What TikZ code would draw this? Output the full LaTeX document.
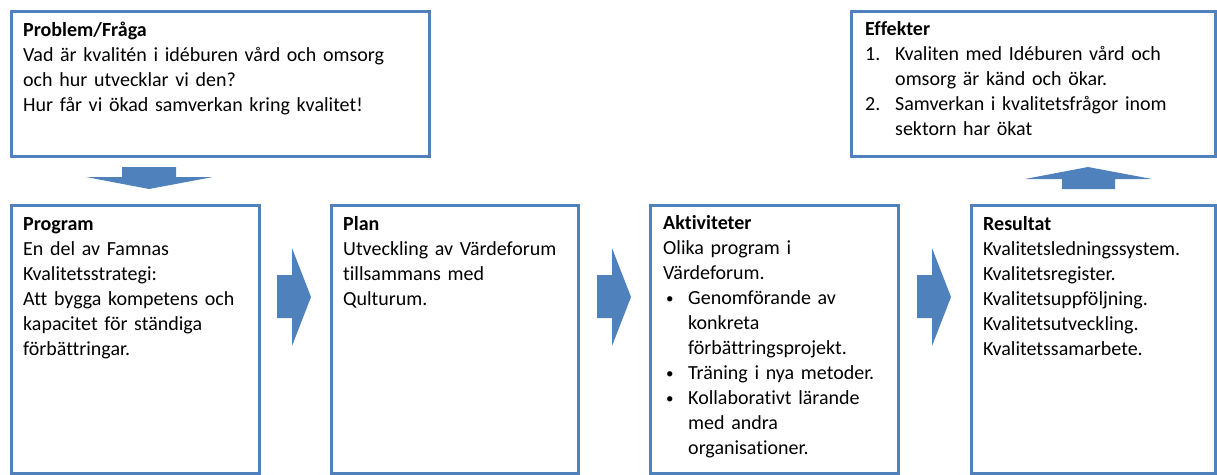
\documentclass[tikz,border=0pt]{standalone}
\usepackage{graphicx}
\usepackage{fontspec}
\setmainfont[Ligatures={NoCommon}]{Carlito}
\definecolor{ob}{HTML}{4F81BD}
\newcommand{\smallbul}{\raisebox{0.5pt}{\scalebox{0.75}{\textbullet}}}
\begin{document}
\begin{tikzpicture}[x=1pt,y=-1pt,
  box/.style={draw=ob, line width=2.5pt, inner sep=0pt, anchor=north west, fill=white},
  txt/.style={anchor=base west, inner sep=0pt, text width=#1, align=left, font=\fontsize{20}{25}\selectfont},
  arr/.style={fill=ob}]
\useasboundingbox (0,0) rectangle (1217,474);
\clip (0,0) rectangle (1217,474);
% boxes
\node[box, minimum width=418, minimum height=145] (prob) at (10,10) {};
\node[box, minimum width=364, minimum height=145] (eff) at (850,10) {};
\node[box, minimum width=248, minimum height=268] (prog) at (10,204) {};
\node[box, minimum width=247, minimum height=268] (plan) at (330,204) {};
\node[box, minimum width=248, minimum height=268] (akt) at (649,204) {};
\node[box, minimum width=244, minimum height=268] (res) at (970,204) {};
% texts
\node[txt=400pt] (tprob) at (23,36) {\textbf{Problem/Fråga}\\
Vad är kvalitén i idéburen vård och omsorg\\
och hur utvecklar vi den?\\
Hur får vi ökad samverkan kring kvalitet!};
\node[txt=350pt] (teff) at (865,35) {\textbf{Effekter}\\
\makebox[30pt][l]{1.}Kvaliten med Idéburen vård och\\
\hspace*{30pt}omsorg är känd och ökar.\\
\makebox[30pt][l]{2.}Samverkan i kvalitetsfrågor inom\\
\hspace*{30pt}sektorn har ökat};
\node[txt=240pt] (tprog) at (23,230) {\textbf{Program}\\
En del av Famnas\\
Kvalitetsstrategi:\\
Att bygga kompetens och\\
kapacitet för ständiga\\
förbättringar.};
\node[txt=240pt] (tplan) at (343,230) {\textbf{Plan}\\
Utveckling av Värdeforum\\
tillsammans med\\
Qulturum.};
\node[txt=240pt] (takt) at (663,229) {\textbf{Aktiviteter}\\
Olika program i\\
Värdeforum.\\
\hspace*{3pt}\makebox[22pt][l]{\smallbul}Genomförande av\\
\hspace*{25pt}konkreta\\
\hspace*{25pt}förbättringsprojekt.\\
\hspace*{3pt}\makebox[22pt][l]{\smallbul}Träning i nya metoder.\\
\hspace*{3pt}\makebox[22pt][l]{\smallbul}Kollaborativt lärande\\
\hspace*{25pt}med andra\\
\hspace*{25pt}organisationer.};
\node[txt=240pt] (tres) at (983,230) {\textbf{Resultat}\\
Kvalitetsledningssystem.\\
Kvalitetsregister.\\
Kvalitetsuppföljning.\\
Kvalitetsutveckling.\\
Kvalitetssamarbete.};
% block arrows
\fill[arr] (122,167) -- (176,167) -- (176,177) -- (213,177) -- (149,189) -- (86,177) -- (122,177) -- cycle;
\fill[arr] (1062,189) -- (1115,189) -- (1115,179) -- (1152,179) -- (1088,167) -- (1025,179) -- (1062,179) -- cycle;
\foreach \x in {277,597,917}{
  \fill[arr] (\x,275) -- (\x+15,275) -- (\x+15,248) -- (\x+34,297) -- (\x+15,346) -- (\x+15,318) -- (\x,318) -- cycle;
}
\end{tikzpicture}
\end{document}
